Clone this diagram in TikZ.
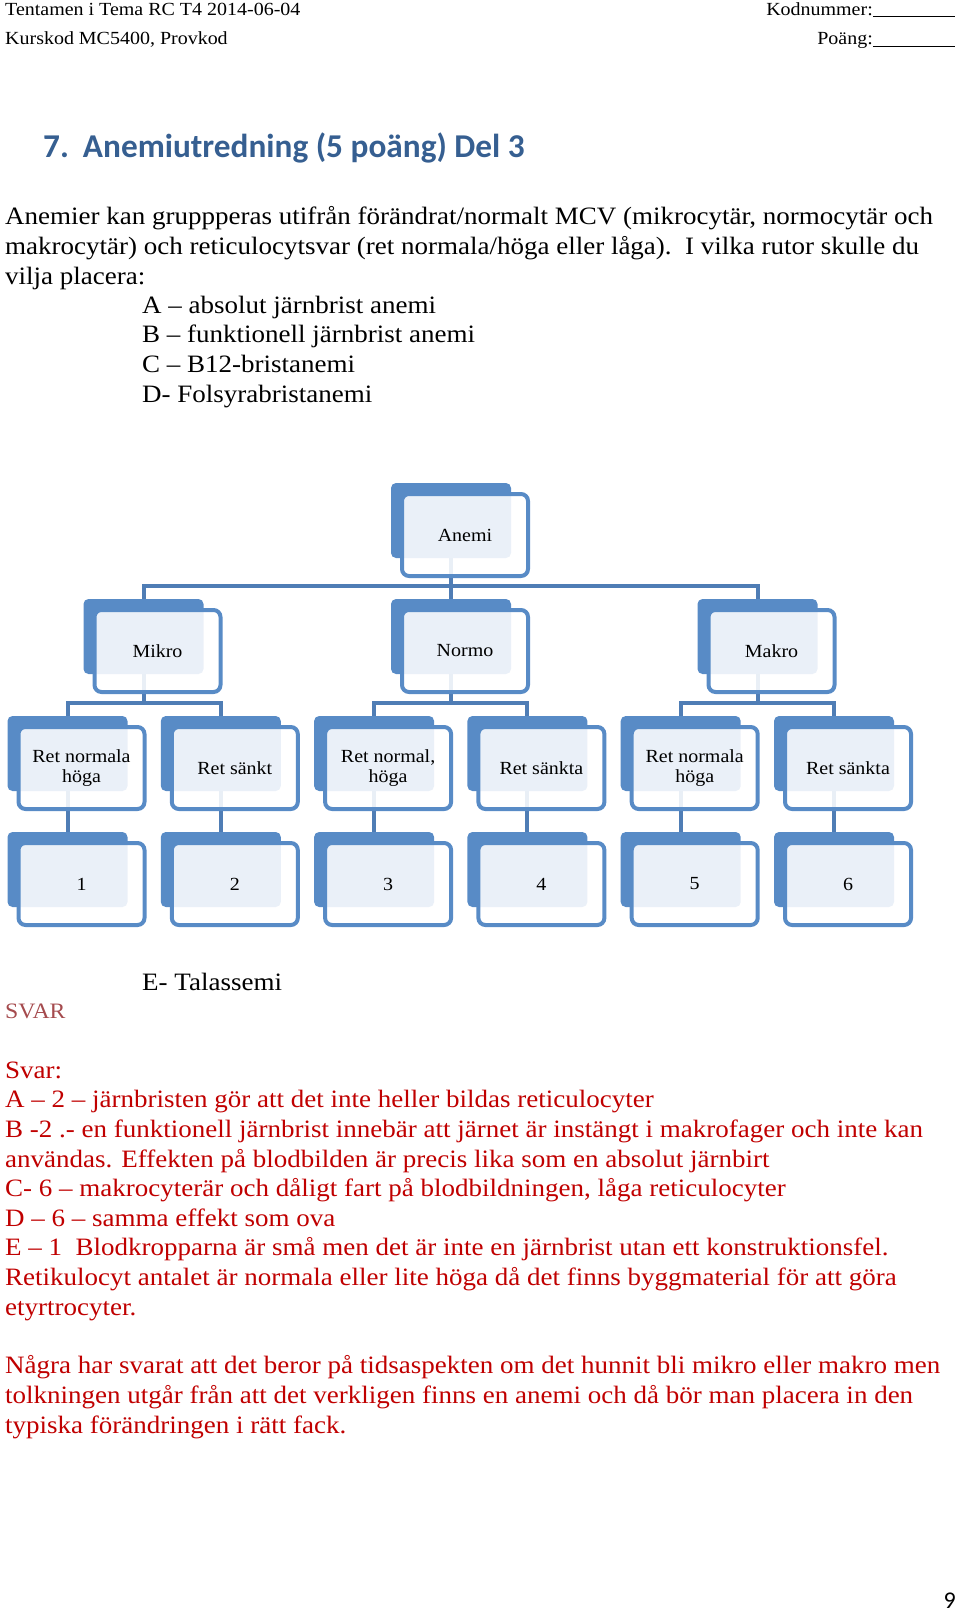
\documentclass[tikz,border=0pt]{standalone}
\usepackage{fontspec}
\setmainfont[FakeStretch=1.08]{Liberation Serif}
\newfontfamily\headingfont{Carlito}
\usepackage{xcolor}
\definecolor{boxblue}{RGB}{88,139,198}
\definecolor{linkblue}{RGB}{79,125,181}
\definecolor{titleblue}{RGB}{54,95,145}
\definecolor{answerred}{RGB}{192,0,0}
\definecolor{svarred}{RGB}{165,75,78}
\usetikzlibrary{positioning}

\begin{document}
\begin{tikzpicture}
    [
      x=1pt, y=-1pt,
      back/.style={anchor=north west, minimum width=120pt, minimum height=75pt, inner sep=0pt, outer sep=0pt, rounded corners=5pt, fill=boxblue},
      front/.style={minimum width=126pt, minimum height=82pt, inner sep=0pt, outer sep=0pt, rounded corners=7pt, draw=boxblue, line width=4pt, fill=white, fill opacity=0.88, text opacity=1, align=center, font=\fontsize{18.5}{19.5}\selectfont},
      link/.style={draw=linkblue, line width=4pt, to path={(\tikztostart) |- ([yshift=13.5pt]\tikztotarget) -- (\tikztotarget)}},
      head/.style={anchor=base west, inner sep=0pt, font=\fontsize{18.5}{22}\selectfont},
      body/.style={anchor=base west, inner sep=0pt, align=left, font=\fontsize{25}{29.6}\selectfont},
      answer/.style={body, text=answerred},
    ]
    \useasboundingbox (0,0) rectangle (960,1613);

    % page head
    \node (exam) [head] at (5,15.5) {Tentamen i Tema RC T4 2014-06-04};
    \node (course) [head] at (5,45) {Kurskod MC5400, Provkod};
    \node (code) [head, anchor=base east] at (955,15.5) {Kodnummer:\rule[-1.5pt]{82pt}{0.8pt}};
    \node (points) [head, anchor=base east] at (955,45) {Poäng:\rule[-1.5pt]{82pt}{0.8pt}};

    \node (title) [anchor=base west, inner sep=0pt, text=titleblue, font=\headingfont\bfseries\fontsize{33.3}{38}\selectfont] at (43,158) {7.\hspace{14pt}Anemiutredning (5 poäng) Del 3};

    % multi-line nodes sit on their last line
    \node (question) [body] at (5,284) {Anemier kan gruppperas utifrån förändrat/normalt MCV (mikrocytär, normocytär och\\makrocytär) och reticulocytsvar (ret normala/höga eller låga).\ \ I vilka rutor skulle du\\vilja placera:};
    \node (choices) [body] at (142,402) {A – absolut järnbrist anemi\\B – funktionell järnbrist anemi\\C – B12-bristanemi\\D- Folsyrabristanemi};

    % shadows of the boxes
    \node (anemi-back) [back] at (391,483) {};
    \node (mikro-back) [back] at (83.5,599) {};
    \node (normo-back) [back] at (391,599) {};
    \node (makro-back) [back] at (697.5,599) {};
    \node (mikro-hog-back) [back] at (7.5,716) {};
    \node (mikro-sank-back) [back] at (160.8,716) {};
    \node (normo-hog-back) [back] at (314.1,716) {};
    \node (normo-sank-back) [back] at (467.4,716) {};
    \node (makro-hog-back) [back] at (620.7,716) {};
    \node (makro-sank-back) [back] at (774,716) {};
    \node (cell1-back) [back] at (7.5,832) {};
    \node (cell2-back) [back] at (160.8,832) {};
    \node (cell3-back) [back] at (314.1,832) {};
    \node (cell4-back) [back] at (467.4,832) {};
    \node (cell5-back) [back] at (620.7,832) {};
    \node (cell6-back) [back] at (774,832) {};

    \path
    (anemi-back.south) edge [link] (mikro-back.north)
    (anemi-back.south) edge [link] (normo-back.north)
    (anemi-back.south) edge [link] (makro-back.north)
    (mikro-back.south) edge [link] (mikro-hog-back.north)
    (mikro-back.south) edge [link] (mikro-sank-back.north)
    (normo-back.south) edge [link] (normo-hog-back.north)
    (normo-back.south) edge [link] (normo-sank-back.north)
    (makro-back.south) edge [link] (makro-hog-back.north)
    (makro-back.south) edge [link] (makro-sank-back.north)
    (mikro-hog-back.south) edge [link] (cell1-back.north)
    (mikro-sank-back.south) edge [link] (cell2-back.north)
    (normo-hog-back.south) edge [link] (cell3-back.north)
    (normo-sank-back.south) edge [link] (cell4-back.north)
    (makro-hog-back.south) edge [link] (cell5-back.north)
    (makro-sank-back.south) edge [link] (cell6-back.north)
    ;

    \node (anemi) [front, below right=11pt and 11pt of anemi-back.north west] {Anemi};
    \node (mikro) [front, below right=11pt and 11pt of mikro-back.north west] {Mikro};
    \node (normo) [front, below right=11pt and 11pt of normo-back.north west] {Normo};
    \node (makro) [front, below right=11pt and 11pt of makro-back.north west] {Makro};
    \node (mikro-hog) [front, below right=11pt and 11pt of mikro-hog-back.north west] {Ret normala\\höga};
    \node (mikro-sank) [front, below right=11pt and 11pt of mikro-sank-back.north west] {Ret sänkt};
    \node (normo-hog) [front, below right=11pt and 11pt of normo-hog-back.north west] {Ret normal,\\höga};
    \node (normo-sank) [front, below right=11pt and 11pt of normo-sank-back.north west] {Ret sänkta};
    \node (makro-hog) [front, below right=11pt and 11pt of makro-hog-back.north west] {Ret normala\\höga};
    \node (makro-sank) [front, below right=11pt and 11pt of makro-sank-back.north west] {Ret sänkta};
    \node (cell1) [front, below right=11pt and 11pt of cell1-back.north west] {1};
    \node (cell2) [front, below right=11pt and 11pt of cell2-back.north west] {2};
    \node (cell3) [front, below right=11pt and 11pt of cell3-back.north west] {3};
    \node (cell4) [front, below right=11pt and 11pt of cell4-back.north west] {4};
    \node (cell5) [front, below right=11pt and 11pt of cell5-back.north west] {5};
    \node (cell6) [front, below right=11pt and 11pt of cell6-back.north west] {6};

    % answers
    \node (talassemi) [body] at (142,990) {E- Talassemi};
    \node (svar-head) [body, text=svarred, font=\fontsize{22}{26}\selectfont] at (5,1018) {SVAR};
    \node (answers) [answer] at (5,1315) {Svar:\\A – 2 – järnbristen gör att det inte heller bildas reticulocyter\\B -2 .- en funktionell järnbrist innebär att järnet är instängt i makrofager och inte kan\\användas. Effekten på blodbilden är precis lika som en absolut järnbirt\\C- 6 – makrocyterär och dåligt fart på blodbildningen, låga reticulocyter\\D – 6 – samma effekt som ova\\E – 1\ \ Blodkropparna är små men det är inte en järnbrist utan ett konstruktionsfel.\\Retikulocyt antalet är normala eller lite höga då det finns byggmaterial för att göra\\etyrtrocyter.};
    \node (comment) [answer] at (5,1433) {Några har svarat att det beror på tidsaspekten om det hunnit bli mikro eller makro men\\tolkningen utgår från att det verkligen finns en anemi och då bör man placera in den\\typiska förändringen i rätt fack.};

    \node (page) [anchor=base east, inner sep=0pt, font=\headingfont\fontsize{24}{28}\selectfont] at (956,1608) {9};
\end{tikzpicture}
\end{document}
